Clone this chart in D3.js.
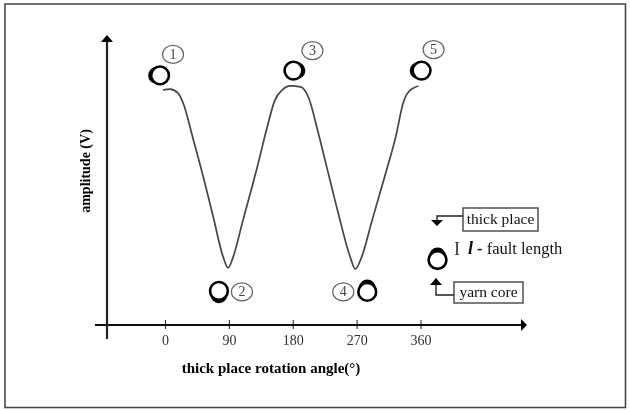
<!DOCTYPE html>
<html>
<head>
<meta charset="utf-8">
<script src="https://cdn.jsdelivr.net/npm/d3@7/dist/d3.min.js"></script>
<style>
html,body{margin:0;padding:0;background:#fff;}
svg{display:block;}
text{font-family:"Liberation Serif",serif;}
</style>
</head>
<body>
<svg id="c" width="630" height="410"></svg>
<script>
const tickAngles = [0, 90, 180, 270, 360];
const curveAngles = [-3,7,18,25,40,54,68,82,89,96,110,130,144,155,165,177,191,202,216,230,244,261,268,277,292,311,325,336,343,357];
const curveAmps = [9.79,9.83,9.67,9.29,7.71,6.17,4.5,2.83,2.38,2.83,4.38,6.58,8.25,9.38,9.79,9.96,9.92,9.5,8.0,6.33,4.67,2.83,2.33,2.83,4.38,6.33,7.83,9.29,9.71,9.96];
const stateLabels = ["1","2","3","4","5"];
const stateAngles = [-7,76,181,285,361.5];
const stateAmps = [10.4,1.42,10.6,1.38,10.6];
const stateBulge = ["left","bottom","right","top","left"];
const xTitle = "thick place rotation angle(°)";
const yTitle = "amplitude (V)";

const svg = d3.select("#c");
const defs = svg.append("defs");
defs.append("filter").attr("id","soft").attr("x","-5%").attr("y","-5%").attr("width","110%").attr("height","110%")
  .append("feGaussianBlur").attr("stdDeviation",0.55);
defs.append("clipPath").attr("id","clipR").append("rect").attr("x",0).attr("y",0).attr("width",566).attr("height",410);

const root = svg.append("g").attr("filter","url(#soft)");
const x = d3.scaleLinear().domain([0,360]).range([165,420.5]);
const y = d3.scaleLinear().domain([0,10]).range([325,85]);

root.append("rect").attr("x",5).attr("y",4).attr("width",620.5).attr("height",403.5)
  .attr("fill","#fff").attr("stroke","#4a4a4a").attr("stroke-width",1.6);

// axes
const ax = root.append("g").attr("transform",`translate(0,${y(0)})`)
  .call(d3.axisBottom(x).tickValues(tickAngles).tickSize(4).tickPadding(6).tickFormat(d3.format("d")));
ax.select(".domain").remove();
ax.selectAll(".tick line").attr("y1",-5).attr("y2",4).attr("stroke","#333").attr("stroke-width",1.1);
ax.selectAll(".tick text").attr("font-size",14).attr("font-family","Liberation Serif").attr("fill","#333");

root.append("line").attr("x1",95).attr("x2",522).attr("y1",y(0)).attr("y2",y(0)).attr("stroke","#111").attr("stroke-width",2.2);
root.append("path").attr("d",`M521,${y(0)-6}L527,${y(0)}L521,${y(0)+6}Z`).attr("fill","#000");
root.append("line").attr("x1",107).attr("x2",107).attr("y1",40).attr("y2",339).attr("stroke","#222").attr("stroke-width",2.2);
root.append("path").attr("d","M101,42L107,35L113,42Z").attr("fill","#000");

// curve
const pts = curveAngles.map((a,i)=>[a,curveAmps[i]]);
root.append("path").datum(pts)
  .attr("d",d3.line().x(d=>x(d[0])).y(d=>y(d[1])).curve(d3.curveMonotoneX))
  .attr("fill","none").attr("stroke","#444").attr("stroke-width",1.7);

// yarn marker
const off = {left:[-3.5,0],right:[3.5,0],top:[0,-4],bottom:[0,4]};
function yarn(g,cx,cy,side){
  const o = off[side];
  g.append("circle").attr("cx",cx+o[0]).attr("cy",cy+o[1]).attr("r",8.4).attr("fill","#000");
  g.append("circle").attr("cx",cx).attr("cy",cy).attr("r",8.9).attr("fill","#fff").attr("stroke","#000").attr("stroke-width",2.6);
}
const stateOffset = [[13,-21],[23,1],[19,-20],[-24,0],[12,-21]];
stateLabels.forEach((s,i)=>{
  const cx = x(stateAngles[i]), cy = y(stateAmps[i]);
  yarn(root,cx,cy,stateBulge[i]);
  const lx = cx+stateOffset[i][0], ly = cy+stateOffset[i][1];
  root.append("ellipse").attr("cx",lx).attr("cy",ly).attr("rx",10.5).attr("ry",9)
    .attr("fill","#fff").attr("stroke","#666").attr("stroke-width",1.2);
  root.append("text").attr("x",lx).attr("y",ly+4.5).attr("text-anchor","middle")
    .attr("font-size",14).attr("fill","#444").text(s);
});

// titles
root.append("text").attr("x",271).attr("y",373).attr("text-anchor","middle")
  .attr("font-size",15).attr("font-weight","bold").attr("fill","#000").text(xTitle);
root.append("text").attr("transform","translate(90,171) rotate(-90)").attr("text-anchor","middle")
  .attr("font-size",14).attr("font-weight","bold").attr("fill","#000").text(yTitle);

// key
const key = root.append("g");
function box(bx,by,w,h,label){
  key.append("rect").attr("x",bx).attr("y",by).attr("width",w).attr("height",h)
    .attr("fill","#fff").attr("stroke","#444").attr("stroke-width",1.4);
  key.append("text").attr("x",bx+w/2).attr("y",by+h/2+4.5).attr("text-anchor","middle")
    .attr("font-size",15.5).attr("fill","#111").text(label);
}
box(463,208,75,23,"thick place");
box(454,282,69,21,"yarn core");
key.append("path").attr("d","M463,216H437V221").attr("fill","none").attr("stroke","#222").attr("stroke-width",1.4);
key.append("path").attr("d","M431,220H443L437,226Z").attr("fill","#000");
key.append("path").attr("d","M454,295H436V284").attr("fill","none").attr("stroke","#222").attr("stroke-width",1.4);
key.append("path").attr("d","M430,285H442L436,278Z").attr("fill","#000");
yarn(key,x(384),260,"top");
key.append("text").attr("x",457).attr("y",255).attr("text-anchor","middle").attr("font-size",18).attr("fill","#333").text("I");
const t = key.append("text").attr("x",468).attr("y",254).attr("font-size",16.5).attr("fill","#111").attr("clip-path","url(#clipR)");
t.append("tspan").attr("font-style","italic").attr("font-weight","bold").attr("font-size",18).text("l");
t.append("tspan").attr("dx",4).attr("font-weight","bold").text("- ");
t.append("tspan").text("fault length");
</script>
</body>
</html>
